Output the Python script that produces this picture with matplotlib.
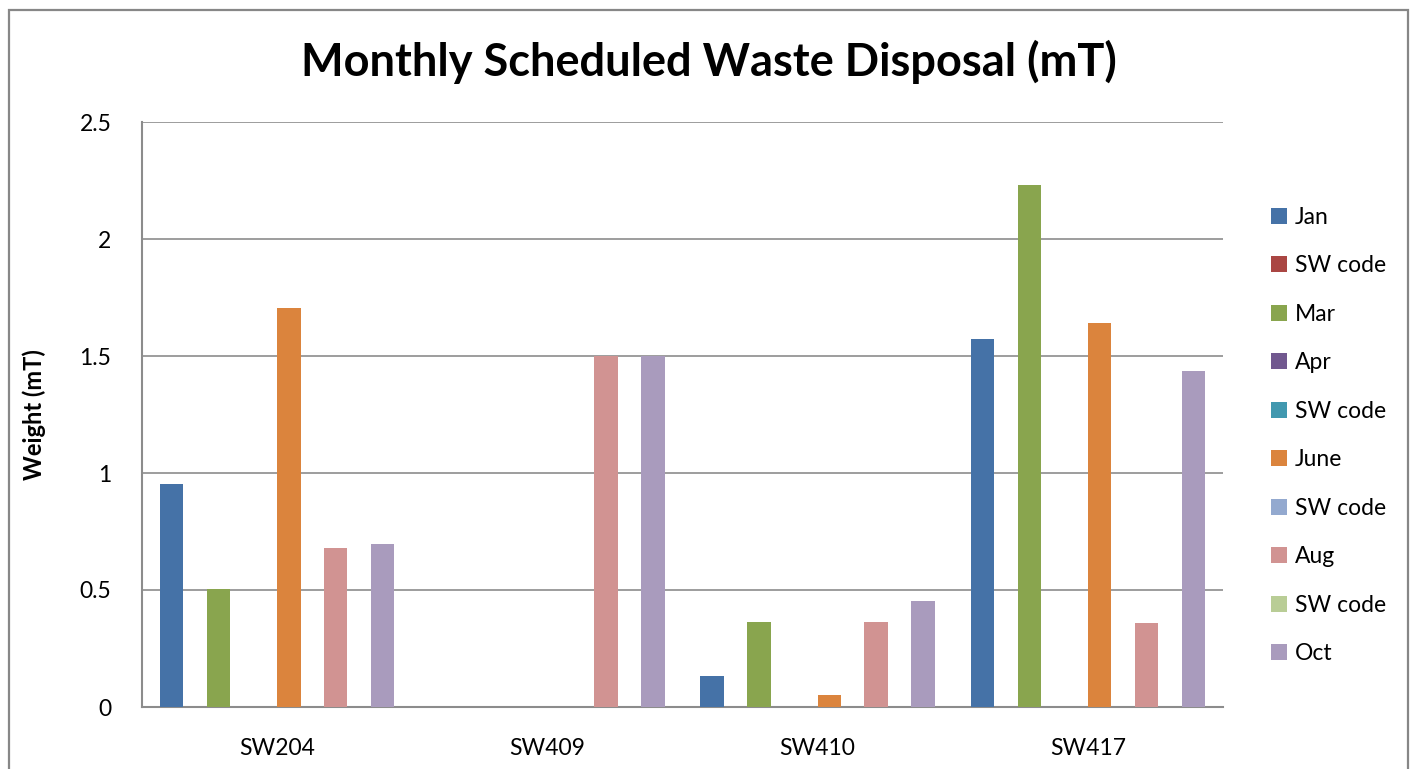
import numpy as np
import matplotlib
matplotlib.use('Agg')
import matplotlib.pyplot as plt
from matplotlib.patches import Rectangle

plt.rcParams['font.family'] = ['Lato', 'DejaVu Sans']

# categories and series
codes = ['SW204', 'SW409', 'SW410', 'SW417']
series = ['Jan', 'SW code', 'Mar', 'Apr', 'SW code', 'June', 'SW code', 'Aug', 'SW code', 'Oct']
jan = [0.953, 0, 0.132, 1.573]
sw_code1 = [0, 0, 0, 0]
mar = [0.504, 0, 0.363, 2.231]
apr = [0, 0, 0, 0]
sw_code2 = [0, 0, 0, 0]
june = [1.705, 0, 0.051, 1.641]
sw_code3 = [0, 0, 0, 0]
aug = [0.68, 1.5, 0.363, 0.359]
sw_code4 = [0, 0, 0, 0]
octo = [0.697, 1.5, 0.453, 1.436]
values = [jan, sw_code1, mar, apr, sw_code2, june, sw_code3, aug, sw_code4, octo]

colors = ['#4572A7', '#AA4643', '#89A54E', '#71588F', '#4198AF',
          '#DB843D', '#93A9CF', '#D19392', '#B9CD96', '#A99BBD']

W, H = 1416, 769
fig = plt.figure(figsize=(W / 100, H / 100), dpi=100)

# chart border
fig.patches.append(Rectangle((9 / W, -0.05), 1399 / W, 1.05 - 10 / H,
                             transform=fig.transFigure, fill=False,
                             edgecolor='#878787', linewidth=1.6))

ax = fig.add_axes([142 / W, 1 - 707 / H, (1223 - 142) / W, (707 - 122) / H])

x = np.arange(len(codes))
w = 0.0867
for j, (vals, col, name) in enumerate(zip(values, colors, series)):
    ax.bar(x + (j - 4.5) * w, vals, width=w, color=col, label=name, zorder=3)

ax.set_xlim(-0.5, len(codes) - 0.5)
ax.set_ylim(0, 2.5)
ax.set_yticks([0, 0.5, 1, 1.5, 2, 2.5])
ax.set_yticklabels(['0', '0.5', '1', '1.5', '2', '2.5'])
ax.set_xticks(x)
ax.set_xticklabels(codes)
ax.tick_params(axis='both', length=0, labelsize=16.5)
ax.tick_params(axis='x', pad=22)
ax.tick_params(axis='y', pad=22)
ax.grid(axis='y', color='#8c8c8c', linewidth=1.2, zorder=0)
for s in ['top', 'right']:
    ax.spines[s].set_visible(False)
for s in ['left', 'bottom']:
    ax.spines[s].set_color('#8c8c8c')
    ax.spines[s].set_linewidth(1.5)

ax.set_ylabel('Weight (mT)', fontsize=17, fontweight='bold', labelpad=24)
fig.text(709 / W, 1 - 62 / H, 'Monthly Scheduled Waste Disposal (mT)',
         ha='center', va='center', fontsize=32.5, fontweight='bold')

ax.legend(loc='upper left', bbox_to_anchor=(1250 / W, 1 - 186 / H),
          bbox_transform=fig.transFigure, frameon=False, fontsize=16.5,
          handlelength=0.7, handleheight=0.7, handletextpad=0.35,
          labelspacing=1.2)

fig.savefig('out.png', dpi=100)
